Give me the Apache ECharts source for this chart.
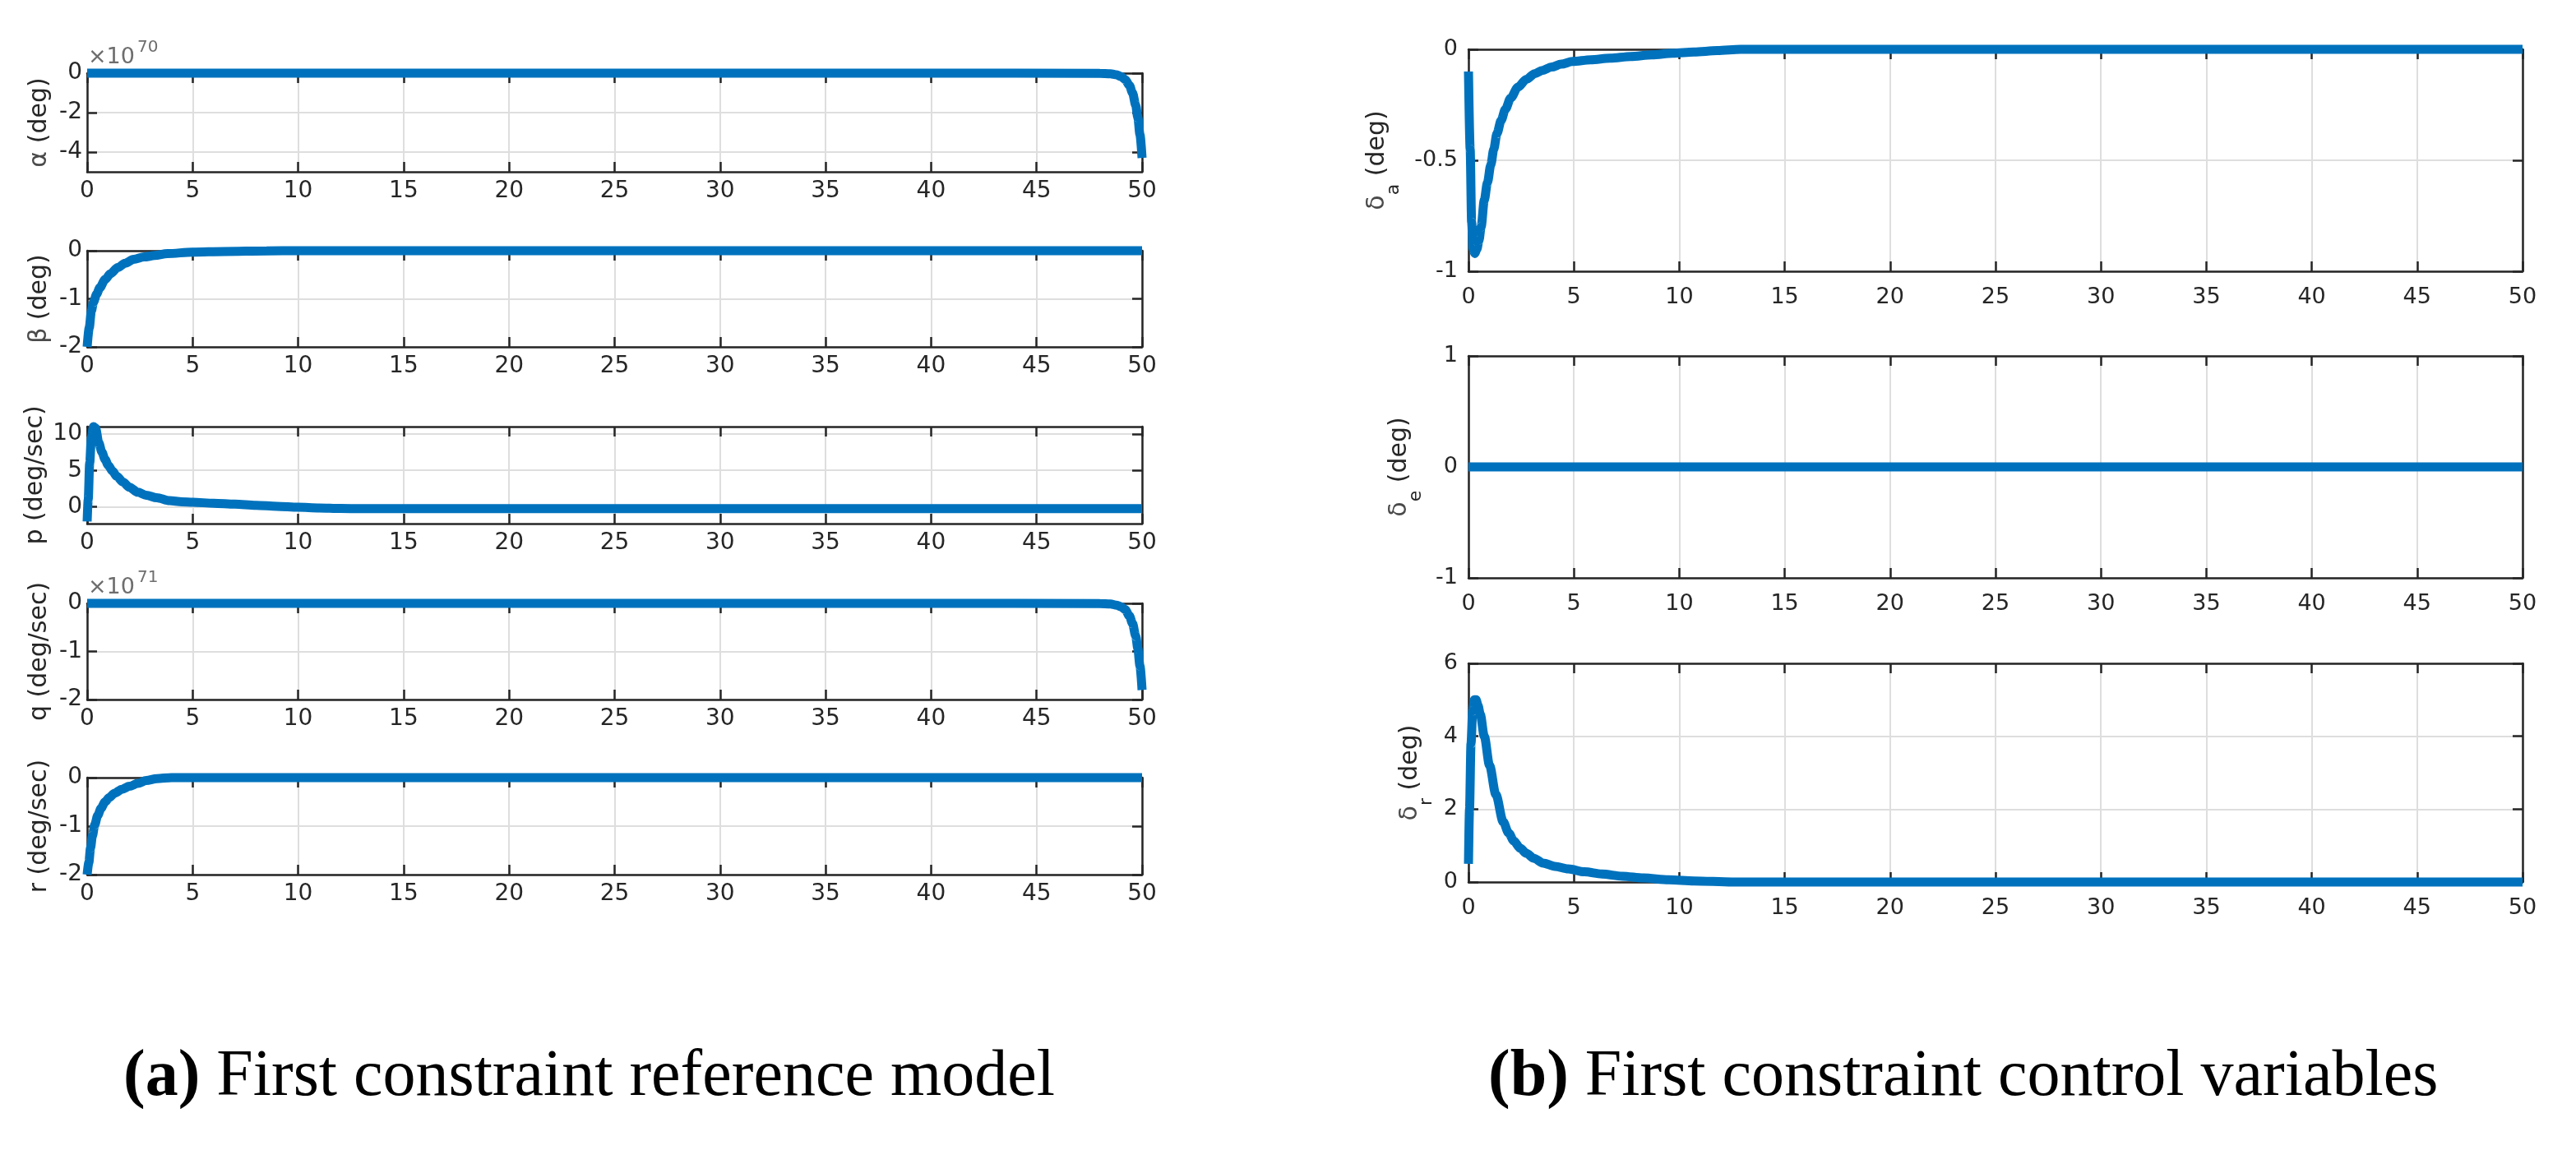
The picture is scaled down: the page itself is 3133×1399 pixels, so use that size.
<!DOCTYPE html>
<html>
<head>
<meta charset="utf-8">
<script src="https://cdn.jsdelivr.net/npm/echarts@6/dist/echarts.min.js"></script>
<style>
html,body{margin:0;padding:0;background:#ffffff;}
#c{width:3133px;height:1399px;}
</style>
</head>
<body>
<div id="c"></div>
<script>
// ---------------- DATA ----------------
// time axis ticks
const xTicks = [0, 5, 10, 15, 20, 25, 30, 35, 40, 45, 50];

// alpha (x10^70 deg)
const alphaT = [0, 10, 20, 30, 40, 48.0, 48.5, 48.8, 49.0, 49.2, 49.4, 49.55, 49.7, 49.8, 49.9, 50];
const alphaV = [0, 0, 0, 0, 0, -0.007, -0.033, -0.088, -0.17, -0.32, -0.62, -1.0, -1.63, -2.25, -3.11, -4.3];
const alphaTicks = [-4, -2, 0];

// beta (deg)
const betaT = [0, 0.1, 0.2, 0.3, 0.45, 0.6, 0.85, 1.1, 1.45, 1.8, 2.2, 2.7, 3.2, 3.8, 5.0, 6.5, 8.5, 10, 50];
const betaV = [-2, -1.6, -1.25, -1.07, -0.9, -0.77, -0.6, -0.48, -0.35, -0.26, -0.18, -0.13, -0.1, -0.06, -0.03, -0.015, -0.004, 0, 0];
const betaTicks = [-2, -1, 0];

// p (deg/sec)
const pT = [0, 0.05, 0.12, 0.2, 0.3, 0.4, 0.55, 0.7, 0.85, 1.0, 1.2, 1.4, 1.7, 2.0, 2.4, 2.8, 3.3, 3.9, 4.5, 5.0, 6.0, 7.0, 8.0, 9.0, 10, 11, 12, 13, 50];
const pV = [-2, 1.0, 6.0, 9.5, 11.0, 10.8, 8.8, 7.5, 6.5, 5.7, 4.9, 4.2, 3.4, 2.7, 2.0, 1.6, 1.25, 0.85, 0.7, 0.62, 0.5, 0.38, 0.2, 0.08, -0.05, -0.15, -0.22, -0.25, -0.25];
const pTicks = [0, 5, 10];

// q (x10^71 deg/sec)
const qT = [0, 10, 20, 30, 40, 48.0, 48.5, 48.8, 49.0, 49.2, 49.4, 49.55, 49.7, 49.8, 49.9, 50];
const qV = [0, 0, 0, 0, 0, -0.003, -0.014, -0.037, -0.07, -0.13, -0.26, -0.42, -0.68, -0.94, -1.3, -1.8];
const qTicks = [-2, -1, 0];

// r (deg/sec)
const rT = [0, 0.08, 0.16, 0.25, 0.36, 0.5, 0.66, 0.85, 1.05, 1.3, 1.65, 2.0, 2.4, 2.8, 3.3, 4.0, 50];
const rV = [-2, -1.75, -1.45, -1.2, -0.97, -0.78, -0.63, -0.5, -0.41, -0.32, -0.24, -0.18, -0.12, -0.06, -0.02, 0, 0];
const rTicks = [-2, -1, 0];

// delta_a (deg)
const daT = [0, 0.08, 0.15, 0.22, 0.3, 0.4, 0.5, 0.6, 0.75, 0.9, 1.06, 1.2, 1.35, 1.55, 1.75, 2.0, 2.35, 2.75, 3.14, 3.5, 3.94, 4.4, 4.93, 5.8, 6.72, 7.7, 8.7, 9.7, 10.7, 11.8, 12.9, 50];
const daV = [-0.1, -0.45, -0.78, -0.9, -0.92, -0.9, -0.86, -0.8, -0.68, -0.6, -0.52, -0.45, -0.38, -0.32, -0.27, -0.22, -0.17, -0.135, -0.11, -0.095, -0.08, -0.067, -0.055, -0.047, -0.04, -0.032, -0.025, -0.018, -0.012, -0.006, 0, 0];
const daTicks = [-1, -0.5, 0];

// delta_e (deg)
const deT = [0, 50];
const deV = [0, 0];
const deTicks = [-1, 0, 1];

// delta_r (deg)
const drT = [0, 0.05, 0.12, 0.2, 0.28, 0.36, 0.45, 0.56, 0.75, 1.0, 1.3, 1.65, 1.9, 2.15, 2.45, 2.74, 3.1, 3.54, 4.1, 4.73, 5.5, 6.33, 7.3, 8.3, 9.5, 10.7, 12.5, 50];
const drV = [0.5, 2.0, 3.8, 4.7, 5.0, 5.0, 4.85, 4.6, 4.0, 3.2, 2.4, 1.65, 1.35, 1.13, 0.93, 0.79, 0.65, 0.52, 0.43, 0.36, 0.28, 0.22, 0.16, 0.11, 0.06, 0.03, 0, 0];
const drTicks = [0, 2, 4, 6];

// captions
const captionA = ['(a)', ' First constraint reference model'];
const captionB = ['(b)', ' First constraint control variables'];

// ---------------- LAYOUT / STYLE ----------------
const AX = '#262626';
const GRIDC = '#dedede';
const BLUE = '#0072BD';
const TF = 'DejaVu Sans';

const panels = [
  {t: alphaT, v: alphaV, ticks: alphaTicks, min: -5, max: 0, rect: {left: 106, top: 89, width: 1283, height: 120},
   name: '{g|α} (deg)', nameGap: 43, fs: 28, lm: 6, xm: 10},
  {t: betaT, v: betaV, ticks: betaTicks, min: -2, max: 0, rect: {left: 106, top: 305, width: 1283, height: 117},
   name: '{g|β} (deg)', nameGap: 43, fs: 28, lm: 6, xm: 10},
  {t: pT, v: pV, ticks: pTicks, min: -2.3, max: 11, rect: {left: 106, top: 519, width: 1283, height: 118},
   name: 'p (deg/sec)', nameGap: 48, fs: 28, lm: 6, xm: 10},
  {t: qT, v: qV, ticks: qTicks, min: -2, max: 0, rect: {left: 106, top: 734, width: 1283, height: 117},
   name: 'q (deg/sec)', nameGap: 43, fs: 28, lm: 6, xm: 10},
  {t: rT, v: rV, ticks: rTicks, min: -2, max: 0, rect: {left: 106, top: 946, width: 1283, height: 118},
   name: 'r (deg/sec)', nameGap: 43, fs: 28, lm: 6, xm: 10},
  {t: daT, v: daV, ticks: daTicks, min: -1, max: 0, rect: {left: 1786, top: 60, width: 1282, height: 270},
   name: '{d|δ}{s|a}{n| (deg)}', nameGap: 80, fs: 27, lm: 13, xm: 18, sub: true},
  {t: deT, v: deV, ticks: deTicks, min: -1, max: 1, rect: {left: 1786, top: 433, width: 1282, height: 270},
   name: '{d|δ}{s|e}{n| (deg)}', nameGap: 53, fs: 27, lm: 13, xm: 18, sub: true},
  {t: drT, v: drV, ticks: drTicks, min: 0, max: 6, rect: {left: 1786, top: 807, width: 1282, height: 266},
   name: '{d|δ}{s|r}{n| (deg)}', nameGap: 40, fs: 27, lm: 13, xm: 18, sub: true}
];

const grids = [], xAxes = [], yAxes = [], series = [];
const lineAx = {show: true, onZero: false, lineStyle: {color: AX, width: 2.5}};
const tickAx = (vals) => ({show: true, inside: true, length: 12, lineStyle: {color: AX, width: 2.5}, customValues: vals});

panels.forEach((P, i) => {
  grids.push(Object.assign({containLabel: false}, P.rect));
  // bottom x
  xAxes.push({
    type: 'value', gridIndex: i, position: 'bottom', min: 0, max: 50,
    axisLine: lineAx, axisTick: tickAx(xTicks),
    axisLabel: {show: true, customValues: xTicks, margin: P.xm, fontFamily: TF, fontSize: P.fs, color: AX},
    splitLine: {show: true, lineStyle: {color: GRIDC, width: 2}}
  });
  // top x (box)
  xAxes.push({
    type: 'value', gridIndex: i, position: 'top', min: 0, max: 50,
    axisLine: lineAx, axisTick: tickAx(xTicks),
    axisLabel: {show: false}, splitLine: {show: false}
  });
  const richName = P.sub ? {
    d: {fontFamily: TF, fontSize: 30, color: '#4a4a4a', lineHeight: 61, verticalAlign: 'middle'},
    s: {fontFamily: TF, fontSize: 22, color: AX, lineHeight: 61, verticalAlign: 'bottom'},
    n: {fontFamily: TF, fontSize: 30, color: AX, lineHeight: 61, verticalAlign: 'middle'}
  } : {
    g: {fontFamily: TF, fontSize: 30, color: '#4a4a4a'}
  };
  // left y
  yAxes.push({
    type: 'value', gridIndex: i, position: 'left', min: P.min, max: P.max,
    axisLine: lineAx, axisTick: tickAx(P.ticks),
    axisLabel: {show: true, customValues: P.ticks, margin: P.lm, fontFamily: TF, fontSize: P.fs, color: AX},
    splitLine: {show: true, lineStyle: {color: GRIDC, width: 2}},
    name: P.name, nameLocation: 'middle', nameRotate: 90, nameGap: P.nameGap,
    nameTextStyle: {fontFamily: TF, fontSize: 30, color: AX, rich: richName}
  });
  // right y (box)
  yAxes.push({
    type: 'value', gridIndex: i, position: 'right', min: P.min, max: P.max,
    axisLine: lineAx, axisTick: tickAx(P.ticks),
    axisLabel: {show: false}, splitLine: {show: false}
  });
  series.push({
    type: 'line', xAxisIndex: 2 * i, yAxisIndex: 2 * i,
    data: P.t.map((x, k) => [x, P.v[k]]),
    symbol: 'none', showSymbol: false, clip: false,
    smooth: 0.3, smoothMonotone: 'x',
    lineStyle: {color: BLUE, width: 11, cap: 'butt'},
    z: 5, silent: true
  });
});

const expoStyle = (txt, fs) => ({text: txt, fontFamily: TF, fontSize: fs, fill: '#6e6e6e', verticalAlign: 'middle', align: 'left'});
const capRich = {b: {fontFamily: 'Liberation Serif', fontSize: 80, fontWeight: 'bold', fill: '#000'}};

const graphic = [
  {type: 'text', x: 107, y: 70, style: expoStyle('×10', 27)},
  {type: 'text', x: 167, y: 58, style: expoStyle('70', 20)},
  {type: 'text', x: 107, y: 715, style: expoStyle('×10', 27)},
  {type: 'text', x: 167, y: 703, style: expoStyle('71', 20)},
  {type: 'text', x: 150, y: 1311, style: {text: '{b|' + captionA[0] + '}' + captionA[1], rich: capRich,
     fontFamily: 'Liberation Serif', fontSize: 80, fill: '#000', verticalAlign: 'middle', align: 'left'}},
  {type: 'text', x: 1810, y: 1311, style: {text: '{b|' + captionB[0] + '}' + captionB[1], rich: capRich,
     fontFamily: 'Liberation Serif', fontSize: 80, fill: '#000', verticalAlign: 'middle', align: 'left'}}
];

const chart = echarts.init(document.getElementById('c'), null, {renderer: 'canvas'});
chart.setOption({
  animation: false,
  backgroundColor: '#ffffff',
  grid: grids, xAxis: xAxes, yAxis: yAxes, series: series, graphic: graphic
});
</script>
</body>
</html>
